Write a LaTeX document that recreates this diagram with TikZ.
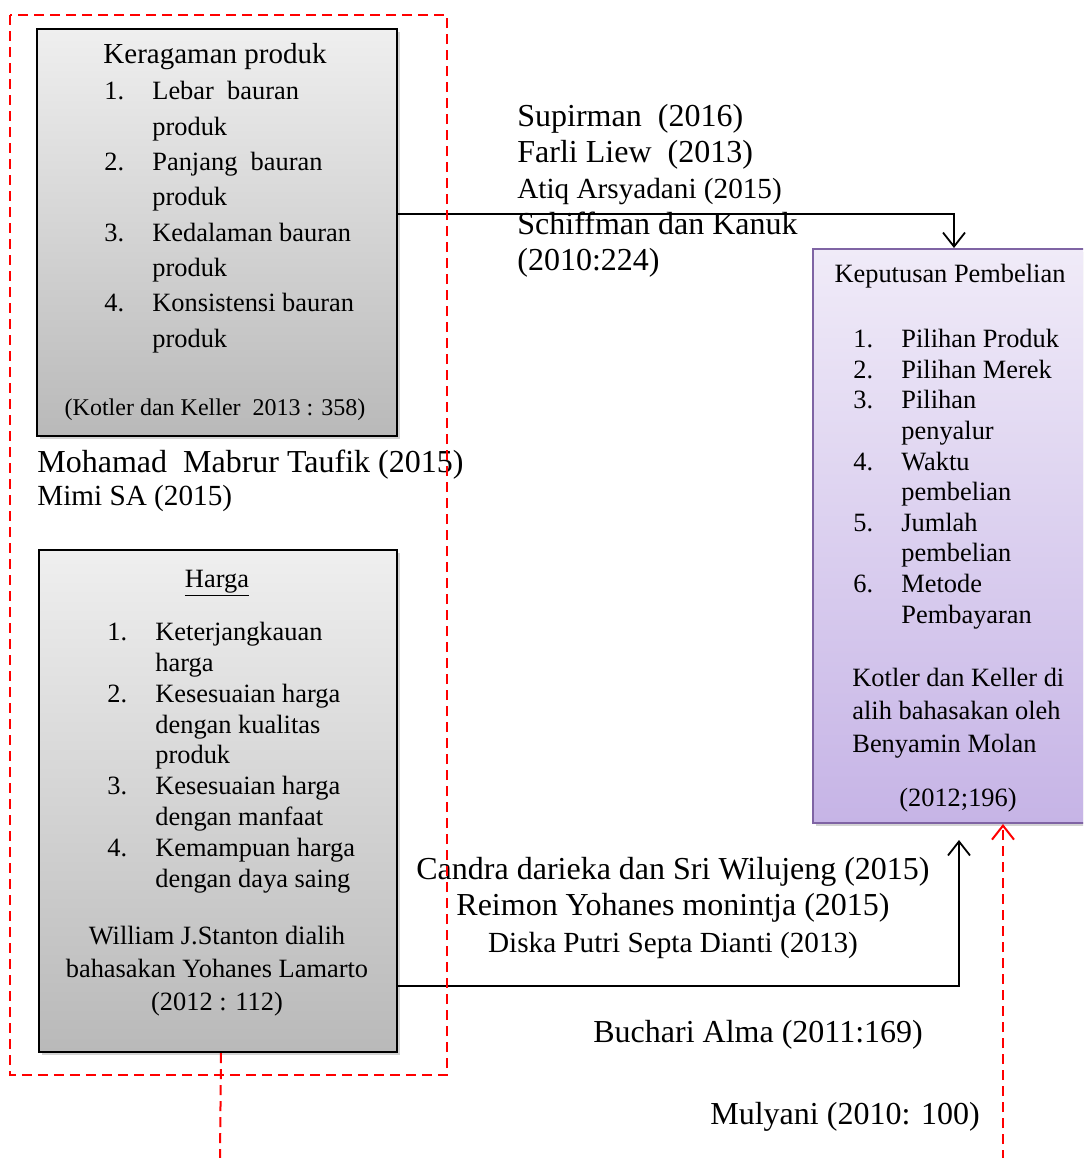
\documentclass[tikz,border=0pt]{standalone}
\usepackage{fontspec}
\setmainfont{Liberation Serif}
\usetikzlibrary{positioning,arrows.meta,shadows}

\definecolor{grtop}{HTML}{EFEFEF}
\definecolor{grbot}{HTML}{B9B9B9}
\definecolor{pptop}{HTML}{F0EBF8}
\definecolor{ppbot}{HTML}{C6B4E6}
\definecolor{ppline}{HTML}{7F64A4}

\newcommand{\fs}[2]{\fontsize{#1}{#2}\selectfont}
\newcommand{\itm}[2]{\makebox[24pt][l]{#1.}#2}
\newcommand{\cnt}[1]{\hspace*{24pt}#1}

\begin{document}
\begin{tikzpicture}[x=0.5pt,y=-0.5pt,
  greybox/.style={draw,line width=1pt,top color=grtop,bottom color=grbot,drop shadow={shadow xshift=1.5pt,shadow yshift=-1.5pt,opacity=.35},anchor=north west,inner sep=0},
  purplebox/.style={draw=ppline,line width=1pt,top color=pptop,bottom color=ppbot,drop shadow={shadow xshift=1.5pt,shadow yshift=-1.5pt,opacity=.35},anchor=north west,inner sep=0},
  txt/.style={inner sep=0,anchor=base west,align=left},
  ctxt/.style={inner sep=0,anchor=base,align=center},
  conn/.style={line width=0.9pt,-{Straight Barb[length=7pt,width=11pt]}},
  reddash/.style={red,line width=1pt,dash pattern=on 5pt off 3pt}]
\clip (0,0) rectangle (1083,1158);

% boxes
\node[greybox,minimum width=180pt,minimum height=203.5pt] (krg) at (36,28) {};
\node[greybox,minimum width=179pt,minimum height=251pt] (hrg) at (38,549) {};
\node[purplebox,minimum width=141pt,minimum height=287pt] (kpt) at (812,248) {};

% Keragaman produk (text placed at baseline of last line)
\node[ctxt,font=\fs{14.5}{17}] (krgt) at (215,63) {Keragaman produk};
\node[txt,font=\fs{13.2}{17.65}] (krgl) at (104,347) {\itm{1}{Lebar~ bauran}\\\cnt{produk}\\\itm{2}{Panjang~ bauran}\\\cnt{produk}\\\itm{3}{Kedalaman bauran}\\\cnt{produk}\\\itm{4}{Konsistensi bauran}\\\cnt{produk}};
\node[ctxt,font=\fs{12}{14}] (krgc) at (215,415) {(Kotler dan Keller~ 2013 : 358)};

% Harga
\node[ctxt,font=\fs{13.2}{15}] (hrgt) at (217,587) {\underline{Harga}};
\node[txt,font=\fs{13.2}{15.4}] (hrgl) at (107,887) {\itm{1}{Keterjangkauan}\\\cnt{harga}\\\itm{2}{Kesesuaian harga}\\\cnt{dengan kualitas}\\\cnt{produk}\\\itm{3}{Kesesuaian harga}\\\cnt{dengan manfaat}\\\itm{4}{Kemampuan harga}\\\cnt{dengan daya saing}};
\node[ctxt,font=\fs{13.2}{16.5}] (hrgc) at (217,1010) {William J.Stanton dialih\\bahasakan Yohanes Lamarto\\(2012 : 112)};

% Keputusan Pembelian
\node[ctxt,font=\fs{13.2}{15}] (kptt) at (950,282) {Keputusan Pembelian};
\node[txt,font=\fs{13.2}{15.3}] (kptl) at (853,623) {\itm{1}{Pilihan Produk}\\\itm{2}{Pilihan Merek}\\\itm{3}{Pilihan}\\\cnt{penyalur}\\\itm{4}{Waktu}\\\cnt{pembelian}\\\itm{5}{Jumlah}\\\cnt{pembelian}\\\itm{6}{Metode}\\\cnt{Pembayaran}};
\node[txt,font=\fs{13.2}{16.5}] (kptc) at (852,752) {Kotler dan Keller di\\alih bahasakan oleh\\Benyamin Molan};
\node[ctxt,font=\fs{13.2}{15}] (kpty) at (958,806) {(2012;196)};

% references
\node[txt,font=\fs{16}{17.9}] (refkp) at (517,270) {Supirman~ (2016)\\Farli Liew~ (2013)\\{\fs{14.6}{17.9}Atiq Arsyadani (2015)}\\Schiffman dan Kanuk\\(2010:224)};
\node[txt,font=\fs{16}{16.5}] (refhk) at (37,505) {Mohamad~ Mabrur Taufik (2015)\\{\fs{14.6}{16.5}Mimi SA (2015)}};
\node[ctxt,font=\fs{16}{18.25}] (refhg) at (673,952) {Candra darieka dan Sri Wilujeng (2015)\\Reimon Yohanes monintja (2015)\\{\fs{14.6}{18.25}Diska Putri Septa Dianti (2013)}};
\node[txt,font=\fs{16}{18}] (refba) at (593,1042) {Buchari Alma (2011:169)};
\node[txt,font=\fs{16}{18}] (refmy) at (710,1124) {Mulyani (2010: 100)};

% connectors
\draw[conn] ([yshift=9.25pt]krg.east) -| (kpt.north);
\draw[conn] ([yshift=-92.5pt]hrg.east) -| ([xshift=2.5pt,yshift=-8pt]kpt.south);

% dashed frame and lines
\coordinate (hrgend) at (220,1160);
\coordinate (kptend) at (1003,1160);
\draw[reddash] (10,15) rectangle (447,1075);
\draw[reddash] ([xshift=1.5pt]hrg.south) -- (hrgend);
\draw[reddash,-{Straight Barb[length=7pt,width=11pt]}] (kptend) -- (kptend |- kpt.south);
\end{tikzpicture}
\end{document}
